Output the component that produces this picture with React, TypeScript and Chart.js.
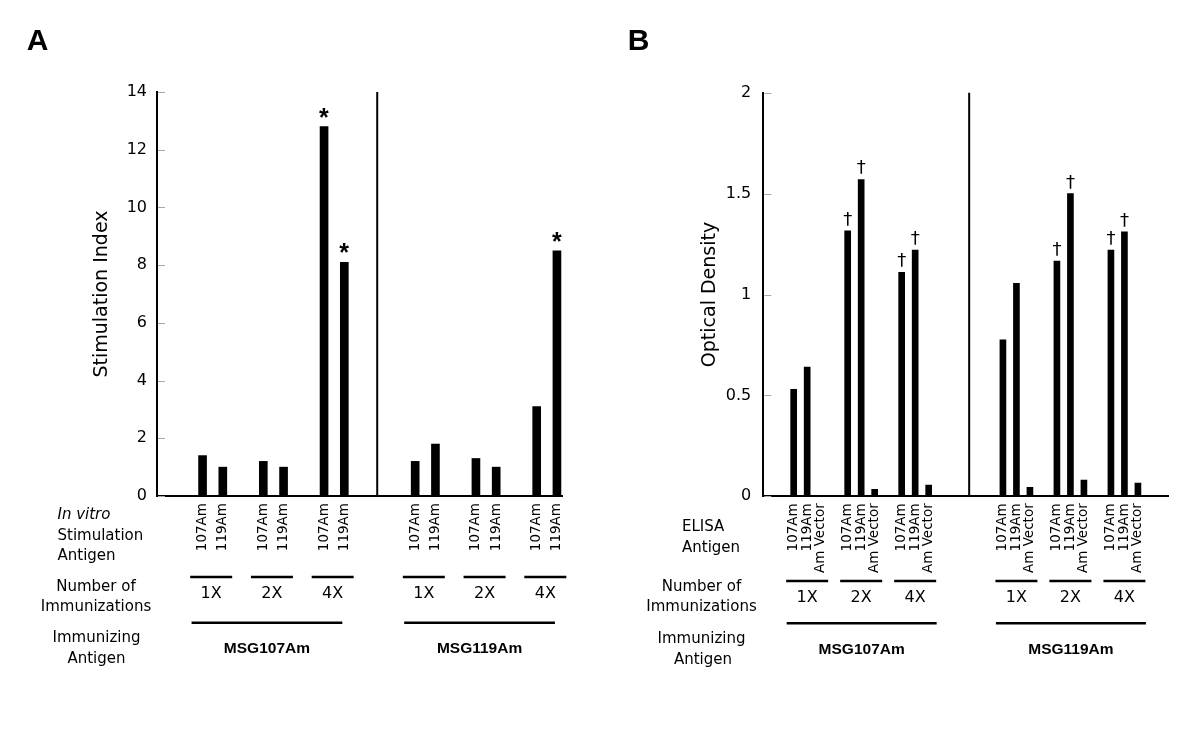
import React, { useEffect, useRef } from 'react';
import { Chart, registerables } from 'chart.js';

Chart.register(...registerables);

// ---------------- data ----------------
const stimulationAntigens = ['107Am', '119Am'];
const elisaAntigens = ['107Am', '119Am', 'Am Vector'];
const immunizationNumbers = ['1X', '2X', '4X'];
const immunizingAntigens = ['MSG107Am', 'MSG119Am'];

// Panel A: stimulation index, order 1X(107Am,119Am), 2X(...), 4X(...)
const stimulationIndexMSG107Am = [1.4, 1.0, 1.2, 1.0, 12.8, 8.1];
const stimulationIndexMSG119Am = [1.2, 1.8, 1.3, 1.0, 3.1, 8.5];
const stimulationStarMSG107Am = [0, 0, 0, 0, 1, 1];
const stimulationStarMSG119Am = [0, 0, 0, 0, 0, 1];
const stimulationIndexTicks = [0, 2, 4, 6, 8, 10, 12, 14];

// Panel B: optical density, order 1X(107Am,119Am,Am Vector), 2X(...), 4X(...)
const opticalDensityMSG107Am = [0.53, 0.64, 0, 1.315, 1.57, 0.035, 1.11, 1.22, 0.055];
const opticalDensityMSG119Am = [0.775, 1.055, 0.045, 1.165, 1.5, 0.08, 1.22, 1.31, 0.065];
const opticalDaggerMSG107Am = [0, 0, 0, 1, 1, 0, 1, 1, 0];
const opticalDaggerMSG119Am = [0, 0, 0, 1, 1, 0, 1, 1, 0];
const opticalDensityTicks = [0, 0.5, 1, 1.5, 2];

// ---------------- panel specs (layout kept separate from data) ----------------
const panelA: any = {
  letter: 'A',
  yTitle: 'Stimulation Index',
  barLabels: stimulationAntigens,
  series: [stimulationIndexMSG107Am, stimulationIndexMSG119Am],
  flags: [stimulationStarMSG107Am, stimulationStarMSG119Am],
  ticks: stimulationIndexTicks,
  markGlyph: '*',
  markFont: 'bold {s}px "Liberation Sans"',
  rowLabels: [
    { text: 'In vitro', italic: true, x: 57.5, y: 515, align: 'left' },
    { text: 'Stimulation', x: 57.5, y: 535.7, align: 'left' },
    { text: 'Antigen', x: 57.5, y: 556.5, align: 'left' },
    { text: 'Number of', x: 96, y: 586.7, align: 'center' },
    { text: 'Immunizations', x: 96, y: 607.5, align: 'center' },
    { text: 'Immunizing', x: 96.5, y: 638.3, align: 'center' },
    { text: 'Antigen', x: 96.5, y: 659, align: 'center' },
  ],
  layout: {
    left: 0,
    slots: 40,
    groupStarts: [4, 25],
    countPitch: 6,
    barPitch: 2,
    dividerSlot: 21.25,
    yAxisWidth: 157,
    padTop: 92,
    padRight: 38,
    xAxisHeight: 235,
    yTickPad: 10,
    titlePad: 90.6,
    barThickness: 8,
    markGap: 9,
    markHeight: 9.5,
    countShift: -1.5,
    countHalf: 21,
    countLineY: 577,
    countTextY: 593.5,
    groupLeft: -11,
    groupRight: -2,
    groupLineY: 622.7,
    groupTextY: 649,
    letterX: 26.7,
  },
};

const panelB: any = {
  letter: 'B',
  yTitle: 'Optical Density',
  barLabels: elisaAntigens,
  series: [opticalDensityMSG107Am, opticalDensityMSG119Am],
  flags: [opticalDaggerMSG107Am, opticalDaggerMSG119Am],
  ticks: opticalDensityTicks,
  markGlyph: '\u2020',
  markFont: '{s}px "DejaVu Sans"',
  rowLabels: [
    { text: 'ELISA', x: 82, y: 526.7, align: 'left' },
    { text: 'Antigen', x: 82, y: 548.3, align: 'left' },
    { text: 'Number of', x: 101.5, y: 586.7, align: 'center' },
    { text: 'Immunizations', x: 101.5, y: 607.3, align: 'center' },
    { text: 'Immunizing', x: 101.5, y: 639, align: 'center' },
    { text: 'Antigen', x: 103, y: 660, align: 'center' },
  ],
  layout: {
    left: 600,
    slots: 60,
    groupStarts: [4, 35],
    countPitch: 8,
    barPitch: 2,
    dividerSlot: 30,
    yAxisWidth: 163.3,
    padTop: 92.7,
    padRight: 31.7,
    xAxisHeight: 234.7,
    yTickPad: 12,
    titlePad: 98.6,
    barThickness: 6,
    markGap: 5,
    markHeight: 15,
    countShift: 0,
    countHalf: 21,
    countLineY: 581,
    countTextY: 598.3,
    groupLeft: -7,
    groupRight: 8,
    groupLineY: 623.3,
    groupTextY: 650,
    letterX: 27.7,
  },
};

function buildSlots(spec: any) {
  const L = spec.layout;
  const labels: string[] = new Array(L.slots).fill('');
  const data: (number | null)[] = new Array(L.slots).fill(null);
  const marks: boolean[] = new Array(L.slots).fill(false);
  const groups: any[] = [];
  spec.series.forEach((vals: number[], g: number) => {
    const start = L.groupStarts[g];
    const grp: any = { name: immunizingAntigens[g], counts: [], slots: [] };
    immunizationNumbers.forEach((cnt, c) => {
      const slotList: number[] = [];
      spec.barLabels.forEach((lab: string, b: number) => {
        const slot = start + c * L.countPitch + b * L.barPitch;
        const k = c * spec.barLabels.length + b;
        labels[slot] = lab;
        data[slot] = vals[k];
        marks[slot] = !!spec.flags[g][k];
        slotList.push(slot);
        grp.slots.push(slot);
      });
      grp.counts.push({ label: cnt, slots: slotList });
    });
    groups.push(grp);
  });
  return { labels, data, marks, groups };
}

function drawGlyph(ctx: CanvasRenderingContext2D, glyph: string, fontTpl: string, cx: number, bottomY: number, targetH: number) {
  ctx.font = fontTpl.replace('{s}', '100');
  const m = ctx.measureText(glyph);
  const h = m.actualBoundingBoxAscent + m.actualBoundingBoxDescent;
  const size = (100 * targetH) / (h || 1);
  ctx.font = fontTpl.replace('{s}', size.toFixed(2));
  const m2 = ctx.measureText(glyph);
  ctx.textAlign = 'left';
  ctx.textBaseline = 'alphabetic';
  const x = cx - (m2.actualBoundingBoxRight - m2.actualBoundingBoxLeft) / 2;
  const y = bottomY - m2.actualBoundingBoxDescent;
  ctx.fillText(glyph, x, y);
}

function hLine(ctx: CanvasRenderingContext2D, x1: number, x2: number, y: number) {
  ctx.beginPath();
  ctx.moveTo(x1, y);
  ctx.lineTo(x2, y);
  ctx.stroke();
}

function makePlugin(spec: any, built: any) {
  const L = spec.layout;
  return {
    id: 'panelDecor' + spec.letter,
    afterDraw(chart: any) {
      const ctx: CanvasRenderingContext2D = chart.ctx;
      const area = chart.chartArea;
      const xs = chart.scales.x;
      const ys = chart.scales.y;
      ctx.save();
      // inward tick marks
      ctx.strokeStyle = '#a8a8a8';
      ctx.lineWidth = 1;
      for (const t of ys.ticks) {
        const y = Math.round(ys.getPixelForValue(t.value)) + 0.5;
        hLine(ctx, area.left + 1, area.left + 8, y);
      }
      // divider between immunizing antigens
      const dx = xs.getPixelForValue(L.dividerSlot);
      ctx.strokeStyle = '#000';
      ctx.lineWidth = 2;
      ctx.beginPath();
      ctx.moveTo(dx, area.top);
      ctx.lineTo(dx, area.bottom);
      ctx.stroke();
      // significance marks
      ctx.fillStyle = '#000';
      const meta = chart.getDatasetMeta(0);
      meta.data.forEach((el: any, i: number) => {
        if (built.marks[i]) drawGlyph(ctx, spec.markGlyph, spec.markFont, el.x, el.y - L.markGap, L.markHeight);
      });
      // row labels
      ctx.textBaseline = 'middle';
      for (const r of spec.rowLabels) {
        ctx.font = (r.italic ? 'italic ' : '') + '15px "DejaVu Sans"';
        ctx.textAlign = r.align;
        ctx.fillText(r.text, r.x, r.y);
      }
      // group annotations
      ctx.lineWidth = 2.5;
      built.groups.forEach((g: any) => {
        g.counts.forEach((c: any) => {
          const px = c.slots.map((s: number) => xs.getPixelForValue(s));
          const mid = (Math.min(...px) + Math.max(...px)) / 2 + L.countShift;
          hLine(ctx, mid - L.countHalf, mid + L.countHalf, L.countLineY);
          ctx.font = '16px "DejaVu Sans"';
          ctx.textAlign = 'center';
          ctx.textBaseline = 'middle';
          ctx.fillText(c.label, mid, L.countTextY);
        });
        const gp = g.slots.map((s: number) => xs.getPixelForValue(s));
        const x1 = Math.min(...gp) + L.groupLeft;
        const x2 = Math.max(...gp) + L.groupRight;
        hLine(ctx, x1, x2, L.groupLineY);
        ctx.font = 'bold 15.5px "Liberation Sans"';
        ctx.textAlign = 'center';
        ctx.textBaseline = 'middle';
        ctx.fillText(g.name, (x1 + x2) / 2, L.groupTextY);
      });
      // panel letter
      ctx.font = 'bold 30px "Liberation Sans"';
      ctx.textAlign = 'left';
      ctx.textBaseline = 'alphabetic';
      ctx.fillText(spec.letter, L.letterX, 50);
      ctx.restore();
    },
  };
}

function Panel({ spec }: { spec: any }) {
  const ref = useRef<HTMLCanvasElement | null>(null);
  useEffect(() => {
    const canvas = ref.current;
    if (!canvas) return;
    const L = spec.layout;
    const built = buildSlots(spec);
    const t = spec.ticks;
    const chart = new Chart(canvas, {
      type: 'bar',
      data: {
        labels: built.labels,
        datasets: [
          {
            data: built.data,
            backgroundColor: '#000',
            borderWidth: 0,
            barThickness: L.barThickness,
          },
        ],
      },
      options: {
        animation: false,
        responsive: false,
        devicePixelRatio: 1,
        layout: { padding: { left: 0, top: L.padTop, right: L.padRight, bottom: 0 } },
        plugins: {
          legend: { display: false },
          tooltip: { enabled: false },
          title: { display: false },
        },
        scales: {
          x: {
            type: 'category',
            grid: { display: false, drawTicks: false },
            border: { display: true, color: '#000', width: 2 },
            ticks: {
              autoSkip: false,
              minRotation: 90,
              maxRotation: 90,
              padding: 7,
              color: '#000',
              font: { size: 13.5, family: '"DejaVu Sans"' },
            },
            afterFit: (s: any) => {
              s.height = L.xAxisHeight;
            },
          },
          y: {
            min: t[0],
            max: t[t.length - 1],
            grid: { display: false, drawTicks: false },
            border: { display: true, color: '#000', width: 2 },
            ticks: {
              stepSize: t[1] - t[0],
              padding: L.yTickPad,
              color: '#000',
              font: { size: 16, family: '"DejaVu Sans"' },
              callback: (v: any) => String(Number(v)),
            },
            title: {
              display: true,
              text: spec.yTitle,
              color: '#000',
              font: { size: 19, family: '"DejaVu Sans"' },
              padding: { top: L.titlePad, bottom: 0 },
            },
            afterFit: (s: any) => {
              s.width = L.yAxisWidth;
            },
          },
        },
      } as any,
      plugins: [makePlugin(spec, built)],
    });
    return () => chart.destroy();
  }, [spec]);
  return (
    <canvas
      ref={ref}
      width={600}
      height={731}
      style={{ position: 'absolute', left: spec.layout.left, top: 0, width: 600, height: 731 }}
    />
  );
}

export default function App() {
  return (
    <div
      style={{
        position: 'absolute',
        left: 0,
        top: 0,
        width: 1200,
        height: 731,
        background: '#fff',
        overflow: 'hidden',
      }}
    >
      <Panel spec={panelA} />
      <Panel spec={panelB} />
    </div>
  );
}
